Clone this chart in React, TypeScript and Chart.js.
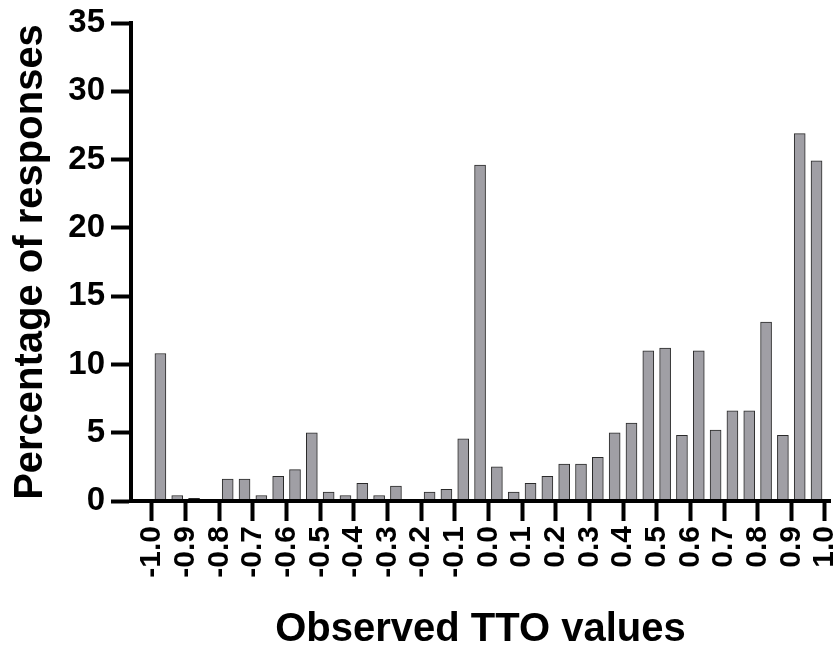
import React, { useEffect, useRef } from "react";
import { Chart, registerables } from "chart.js";

Chart.register(...registerables);

// Bin centres (bins of width 0.05 from -1.0 to 1.0)
const binCenters: number[] = [
  -0.975, -0.925, -0.875, -0.825, -0.775, -0.725, -0.675, -0.625, -0.575, -0.525,
  -0.475, -0.425, -0.375, -0.325, -0.275, -0.225, -0.175, -0.125, -0.075, -0.025,
  0.025, 0.075, 0.125, 0.175, 0.225, 0.275, 0.325, 0.375, 0.425, 0.475,
  0.525, 0.575, 0.625, 0.675, 0.725, 0.775, 0.825, 0.875, 0.925, 0.975,
];

// Percentage of responses per bin
const percentages: number[] = [
  10.8, 0.4, 0.2, 0, 1.6, 1.6, 0.4, 1.8, 2.3, 5.0,
  0.65, 0.4, 1.3, 0.4, 1.1, 0, 0.65, 0.85, 4.55, 24.6,
  2.5, 0.65, 1.3, 1.8, 2.7, 2.7, 3.2, 5.0, 5.7, 11.0,
  11.2, 4.8, 11.0, 5.2, 6.6, 6.6, 13.1, 4.8, 26.9, 24.9,
];

const xTickLabels: string[] = [
  "-1.0", "-0.9", "-0.8", "-0.7", "-0.6", "-0.5", "-0.4", "-0.3", "-0.2", "-0.1",
  "0.0", "0.1", "0.2", "0.3", "0.4", "0.5", "0.6", "0.7", "0.8", "0.9", "1.0",
];

const yTickValues: number[] = [0, 5, 10, 15, 20, 25, 30, 35];

const xTitle = "Observed TTO values";
const yTitle = "Percentage of responses";

const FONT = "'Liberation Sans', Arial, Helvetica, sans-serif";

export default function App() {
  const ref = useRef<HTMLCanvasElement | null>(null);

  useEffect(() => {
    if (!ref.current) return;
    const chart = new Chart(ref.current, {
      type: "bar",
      data: {
        datasets: [
          {
            data: binCenters.map((x, i) => ({ x, y: percentages[i] })),
            backgroundColor: "#a09fa5",
            borderColor: "#2a2a2a",
            borderWidth: 1,
            barThickness: 11,
          },
        ],
      },
      options: {
        responsive: false,
        animation: false,
        events: [],
        layout: { padding: { left: 0, top: 23, right: 10, bottom: 0 } },
        plugins: {
          legend: { display: false },
          tooltip: { enabled: false },
        },
        scales: {
          x: {
            type: "linear",
            min: -1.0624,
            max: 1.015,
            offset: false,
            afterBuildTicks: (s: any) => {
              s.ticks = xTickLabels.map((l) => ({ value: parseFloat(l) }));
            },
            afterFit: (s: any) => {
              s.height = 149;
              s.paddingLeft = 0;
              s.paddingRight = 0;
            },
            grid: {
              offset: false,
              drawOnChartArea: false,
              drawTicks: true,
              tickLength: 20,
              tickWidth: 4,
              tickColor: "#000",
            },
            border: { display: true, color: "#000", width: 4, z: 1 },
            ticks: {
              autoSkip: false,
              minRotation: 90,
              maxRotation: 90,
              padding: 5,
              labelOffset: 0,
              color: "#000",
              font: { family: FONT, size: 30, weight: "bold", lineHeight: 1.0 },
              callback: (v: any) => {
                const idx = xTickLabels.findIndex((l) => Math.abs(parseFloat(l) - Number(v)) < 1e-6);
                return idx >= 0 ? xTickLabels[idx] : "";
              },
            },
            title: {
              display: true,
              text: xTitle,
              color: "#000",
              font: { family: FONT, size: 40, weight: "bold", lineHeight: 1.0 },
              padding: { top: 0, bottom: 0 },
            },
          },
          y: {
            min: 0,
            max: 35,
            afterBuildTicks: (s: any) => {
              s.ticks = yTickValues.map((v) => ({ value: v }));
            },
            afterFit: (s: any) => {
              s.width = 131;
              s.paddingTop = 0;
              s.paddingBottom = 0;
            },
            grid: {
              drawOnChartArea: false,
              drawTicks: true,
              tickLength: 20,
              tickWidth: 4,
              tickColor: "#000",
            },
            border: { display: true, color: "#000", width: 4, z: 1 },
            ticks: {
              padding: 6,
              color: "#000",
              font: { family: FONT, size: 33, weight: "bold" },
            },
            title: {
              display: true,
              text: yTitle,
              color: "#000",
              font: { family: FONT, size: 40, weight: "bold", lineHeight: 1.0 },
              padding: { top: 11, bottom: 0 },
            },
          },
        },
      },
    } as any);
    return () => chart.destroy();
  }, []);

  return (
    <div style={{ position: "fixed", left: 0, top: 0, width: 840, height: 650, background: "#fff" }}>
      <canvas ref={ref} width={840} height={650} style={{ display: "block" }} />
    </div>
  );
}
